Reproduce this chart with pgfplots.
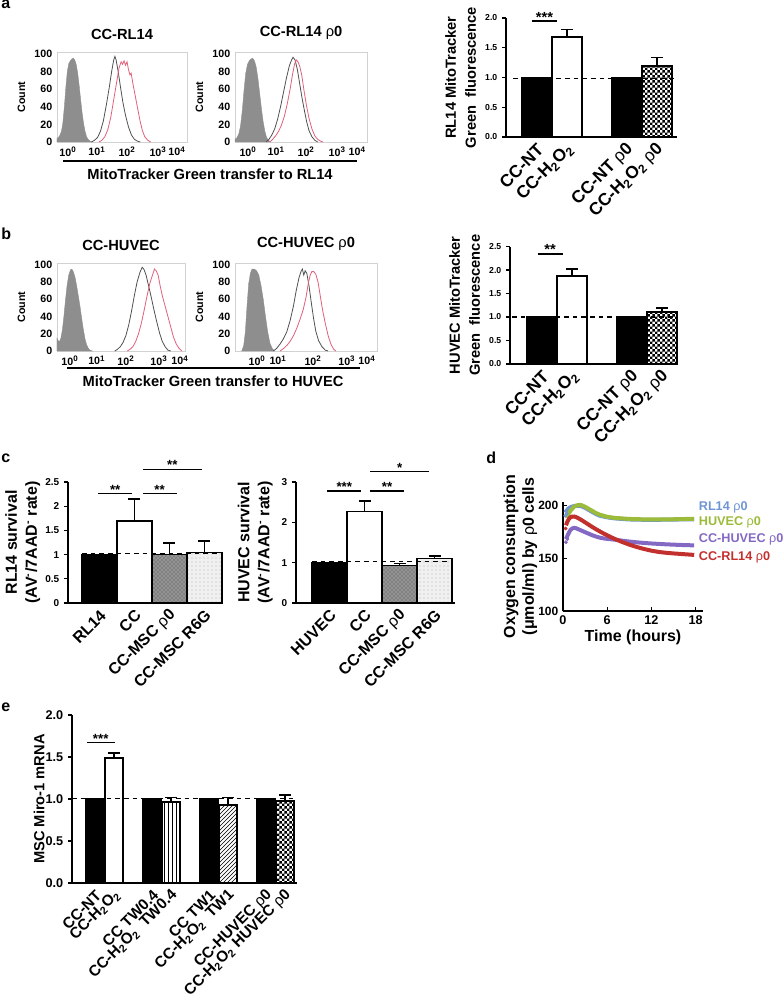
\documentclass[border=0pt]{standalone}
\usepackage{fontspec}
\setmainfont{Liberation Sans}
\usepackage{pgfplots}
\pgfplotsset{compat=1.18}
\usetikzlibrary{patterns}
\pgfdeclarepatternformonly{smallcheck}{\pgfpointorigin}{\pgfqpoint{4pt}{4pt}}{\pgfqpoint{4pt}{4pt}}{%
  \pgfpathrectangle{\pgfpointorigin}{\pgfqpoint{2pt}{2pt}}%
  \pgfpathrectangle{\pgfqpoint{2pt}{2pt}}{\pgfqpoint{2pt}{2pt}}%
  \pgfusepath{fill}}
\definecolor{histred}{HTML}{E0607A}
\definecolor{histgray}{HTML}{8E8E8E}
\definecolor{histdark}{HTML}{505050}
\definecolor{lblue}{HTML}{6E95D6}
\definecolor{lgreen}{HTML}{9CBB3A}
\definecolor{lpurple}{HTML}{8469C4}
\definecolor{lred}{HTML}{C2302E}
\newcommand{\fs}[2]{\fontsize{#1}{#2}\selectfont}
\newcommand{\rh}{{\mdseries ρ}}
\pgfplotsset{
  hist/.style={anchor=south west, scale only axis, ymin=0, ymax=102,
    ytick={0,20,40,60,80,100},
    xticklabels={10\textsuperscript{0},10\textsuperscript{1},10\textsuperscript{2},10\textsuperscript{3},10\textsuperscript{4}},
    axis line style={gray!35, line width=0.5pt}, major tick length=0pt,
    tick label style={font=\bfseries\fs{8}{9}},
    ylabel={Count}, ylabel style={font=\bfseries\fs{8}{9}},
    title style={font=\bfseries\fs{11}{13}},
    /pgf/number format/assume math mode=true, clip=false},
  barax/.style={anchor=south west, scale only axis,
    axis x line*=bottom, axis y line*=left, axis line style={line width=1.1pt,-},
    ymin=0, xtick style={draw=none}, ytick style={line width=0.8pt, black},
    tick align=outside, major tick length=3pt,
    x tick label style={rotate=45, anchor=east, font=\bfseries\fs{13}{14}, inner sep=1pt, yshift=-5pt},
    y tick label style={font=\bfseries\fs{6.5}{8}},
    ylabel style={align=center, font=\bfseries\fs{11}{15}},
    /pgf/number format/assume math mode=true, clip=false},
  onedec/.style={yticklabel style={/pgf/number format/fixed, /pgf/number format/fixed zerofill, /pgf/number format/precision=1}},
  mybar/.style={ybar, bar shift=0pt, bar width=1, draw=black, line width=1.1pt},
  errp/.style={error bars/.cd, y dir=plus, y explicit,
    error bar style={line width=1.1pt, black},
    error mark options={rotate=90, mark size=4.5pt, line width=1.1pt, black}},
  dline/.style={black, line width=0.9pt, dash pattern=on 3.5pt off 3pt},
  brk/.style={black, line width=1.1pt},
}
\begin{document}
\begin{tikzpicture}[x=0.75pt,y=-0.75pt]
\useasboundingbox (0,0) rectangle (784,998);
% panel letters
\node[anchor=base west, inner sep=0, font=\bfseries\fs{12}{14}] at (1,9) {a};
\node[anchor=base west, inner sep=0, font=\bfseries\fs{12}{14}] at (1,240) {b};
\node[anchor=base west, inner sep=0, font=\bfseries\fs{12}{14}] at (1,462) {c};
\node[anchor=base west, inner sep=0, font=\bfseries\fs{12}{14}] at (486,463) {d};
\node[anchor=base west, inner sep=0, font=\bfseries\fs{12}{14}] at (1,711) {e};

% ---------- a histograms
\begin{axis}[hist, at={(57*0.75pt,-142*0.75pt)}, width=97.5pt, height=67.5pt, xmin=-0.37, xmax=4.03,
  xtick={0,0.98,2,3.05,3.69}, title={CC-RL14}]
\addplot[fill=histgray, draw=histgray, line width=0.3pt] coordinates {(-0.37,4) (-0.33,5) (-0.28,7) (-0.22,12) (-0.17,22) (-0.12,40) (-0.07,62) (-0.02,80) (0.03,89) (0.08,92) (0.13,94) (0.18,95) (0.23,93) (0.28,88) (0.33,78) (0.38,64) (0.43,48) (0.48,33) (0.53,21) (0.58,12) (0.63,6) (0.68,3) (0.75,1) (0.82,0)} \closedcycle;
\addplot[draw=histdark, line width=0.6pt] coordinates {(0.8,0) (0.9,2) (1.0,5) (1.1,12) (1.2,24) (1.3,42) (1.4,62) (1.48,80) (1.55,93) (1.59,97) (1.63,93) (1.7,80) (1.78,62) (1.86,45) (1.95,30) (2.05,17) (2.15,8) (2.25,3) (2.35,1) (2.45,0)};
\addplot[draw=histred, line width=0.6pt] coordinates {(1.05,0) (1.15,2) (1.25,6) (1.35,14) (1.45,28) (1.55,48) (1.65,68) (1.73,84) (1.8,91) (1.85,88) (1.9,92) (1.95,87) (2.0,91) (2.05,82) (2.1,76) (2.14,78) (2.2,66) (2.28,52) (2.36,38) (2.44,24) (2.52,13) (2.6,6) (2.7,2) (2.8,0)};
\end{axis}
\begin{axis}[hist, at={(235*0.75pt,-142*0.75pt)}, width=99pt, height=67.5pt, xmin=-0.45, xmax=4.1,
  xtick={0,0.97,2,3.07,3.76}, title={CC-RL14 \rh0}]
\addplot[fill=histgray, draw=histgray, line width=0.3pt] coordinates {(-0.45,3) (-0.38,5) (-0.32,9) (-0.26,18) (-0.2,35) (-0.14,58) (-0.08,78) (-0.02,88) (0.04,92) (0.1,94) (0.16,95) (0.22,92) (0.28,85) (0.34,72) (0.4,55) (0.46,38) (0.52,23) (0.58,12) (0.64,5) (0.7,2) (0.78,0)} \closedcycle;
\addplot[draw=histdark, line width=0.6pt] coordinates {(0.62,0) (0.72,3) (0.82,8) (0.92,15) (1.02,26) (1.12,40) (1.22,56) (1.32,72) (1.42,86) (1.5,93) (1.55,96) (1.62,93) (1.7,82) (1.78,66) (1.86,50) (1.94,36) (2.02,23) (2.1,13) (2.2,6) (2.3,2) (2.4,0)};
\addplot[draw=histred, line width=0.6pt] coordinates {(0.75,0) (0.85,3) (0.95,7) (1.05,12) (1.15,19) (1.25,29) (1.35,43) (1.45,60) (1.53,76) (1.6,88) (1.66,93) (1.72,91) (1.78,86) (1.85,76) (1.93,58) (2.01,42) (2.1,27) (2.2,15) (2.3,7) (2.4,3) (2.5,1) (2.58,0)};
\end{axis}
\draw[line width=0.9pt] (63,161) -- (357,161);
\node[font=\bfseries\fs{11}{13}] at (210,174) {MitoTracker Green transfer to RL14};

% ---------- a bar chart
\begin{axis}[barax, onedec, at={(506*0.75pt,-137*0.75pt)}, width=128.25pt, height=89.25pt, xmin=-0.03, xmax=5.67, ymax=2.0,
  ytick={0,0.5,1,1.5,2},
  xtick={1,2,4,5}, xticklabels={{CC-NT},{CC-H\textsubscript{2}O\textsubscript{2}},{CC-NT \rh0},{CC-H\textsubscript{2}O\textsubscript{2} \rh0}},
  ylabel={RL14 MitoTracker\\Green\ \ fluorescence}]
\addplot[mybar, fill=black] coordinates {(1,1.0)};
\addplot[mybar, fill=white, errp] coordinates {(2,1.68) +- (0,0.13)};
\addplot[mybar, fill=black] coordinates {(4,1.0)};
\addplot[mybar, pattern=smallcheck, errp] coordinates {(5,1.19) +- (0,0.15)};
\addplot[dline] coordinates {(0.2,0.98) (5.67,0.98)};
\addplot[brk] coordinates {(0.84,1.95) (1.67,1.95)};
\node[anchor=base, font=\bfseries\fs{11}{12}] at (axis cs:1.25,1.93) {***};
\end{axis}

% ---------- b histograms
\begin{axis}[hist, at={(57*0.75pt,-351*0.75pt)}, width=96pt, height=66pt, xmin=-0.46, xmax=4.11,
  xtick={0,0.96,2,3.18,3.93}, title={CC-HUVEC}]
\addplot[fill=histgray, draw=histgray, line width=0.3pt] coordinates {(-0.46,15) (-0.42,12) (-0.37,11) (-0.32,15) (-0.27,24) (-0.22,38) (-0.16,58) (-0.1,76) (-0.04,88) (0.02,94) (0.07,95) (0.12,92) (0.18,86) (0.24,76) (0.3,64) (0.36,52) (0.42,38) (0.48,25) (0.54,14) (0.6,7) (0.66,3) (0.72,1) (0.8,0)} \closedcycle;
\addplot[draw=histdark, line width=0.6pt] coordinates {(1.6,0) (1.7,2) (1.8,5) (1.9,10) (2.0,18) (2.1,30) (2.2,46) (2.3,64) (2.4,80) (2.5,91) (2.58,97) (2.64,95) (2.72,88) (2.8,77) (2.9,63) (3.0,48) (3.1,34) (3.2,21) (3.3,11) (3.4,5) (3.5,1) (3.6,0)};
\addplot[draw=histred, line width=0.6pt] coordinates {(2.05,0) (2.15,2) (2.25,5) (2.35,11) (2.45,20) (2.55,32) (2.65,47) (2.75,63) (2.85,78) (2.95,88) (3.02,95) (3.08,93) (3.15,88) (3.22,76) (3.3,64) (3.4,52) (3.5,40) (3.6,28) (3.7,16) (3.8,8) (3.9,3) (4.0,0)};
\end{axis}
\begin{axis}[hist, at={(235*0.75pt,-351*0.75pt)}, width=106.5pt, height=66pt, xmin=-0.79, xmax=4.29,
  xtick={0,0.75,2,3.21,3.93}, title={CC-HUVEC \rh0}]
\addplot[fill=histgray, draw=histgray, line width=0.3pt] coordinates {(-0.55,0) (-0.48,6) (-0.42,22) (-0.36,52) (-0.3,78) (-0.24,90) (-0.18,95) (-0.1,95) (-0.02,93) (0.06,88) (0.14,76) (0.22,60) (0.3,40) (0.38,22) (0.46,9) (0.54,3) (0.62,0)} \closedcycle;
\addplot[draw=histdark, line width=0.6pt] coordinates {(0.58,0) (0.7,3) (0.82,8) (0.94,14) (1.06,22) (1.18,35) (1.3,52) (1.4,70) (1.5,85) (1.58,93) (1.62,95) (1.67,88) (1.72,93) (1.78,90) (1.86,75) (1.94,56) (2.02,38) (2.1,23) (2.2,12) (2.32,5) (2.44,1) (2.54,0)};
\addplot[draw=histred, line width=0.6pt] coordinates {(0.82,0) (0.95,3) (1.08,7) (1.2,12) (1.32,19) (1.44,28) (1.55,38) (1.65,48) (1.75,62) (1.83,78) (1.9,88) (1.96,92) (2.03,92) (2.1,89) (2.18,80) (2.26,64) (2.34,48) (2.44,32) (2.54,18) (2.64,8) (2.74,2) (2.82,0)};
\end{axis}
\draw[line width=0.9pt] (67,368) -- (360,368);
\node[font=\bfseries\fs{11}{13}] at (213,381) {MitoTracker Green transfer to HUVEC};

% ---------- b bar chart
\begin{axis}[barax, onedec, at={(510*0.75pt,-364*0.75pt)}, width=126pt, height=88.1pt, xmin=-0.07, xmax=5.53, ymax=2.5,
  ytick={0,0.5,1,1.5,2,2.5},
  xtick={1,2,4,5}, xticklabels={{CC-NT},{CC-H\textsubscript{2}O\textsubscript{2}},{CC-NT \rh0},{CC-H\textsubscript{2}O\textsubscript{2} \rh0}},
  ylabel={HUVEC MitoTracker\\Green\ \ fluorescence}]
\addplot[mybar, fill=black] coordinates {(1,1.0)};
\addplot[mybar, fill=white, errp] coordinates {(2,1.87) +- (0,0.15)};
\addplot[mybar, fill=black] coordinates {(4,1.0)};
\addplot[mybar, pattern=smallcheck, errp] coordinates {(5,1.11) +- (0,0.08)};
\addplot[dline] coordinates {(0.0,1.0) (5.53,1.0)};
\addplot[brk] coordinates {(0.85,2.34) (1.7,2.34)};
\node[anchor=base, font=\bfseries\fs{11}{12}] at (axis cs:1.27,2.32) {**};
\end{axis}

% ---------- c RL14 survival
\begin{axis}[barax, at={(68*0.75pt,-603*0.75pt)}, width=116.25pt, height=90.75pt, xmin=0.1, xmax=4.53, ymax=2.5,
  ytick={0,0.5,1,1.5,2,2.5}, y tick label style={font=\bfseries\fs{7.5}{9}},
  x tick label style={font=\bfseries\fs{12}{13}},
  xtick={1,2,3,4}, xticklabels={{RL14},{CC},{CC-MSC \rh0},{CC-MSC R6G}},
  ylabel={RL14 survival\\(AV\textsuperscript{-}/7AAD\textsuperscript{-} rate)}, ylabel style={font=\bfseries\fs{12}{15}}, ylabel shift=-3pt]
\addplot[mybar, fill=black] coordinates {(1,1.0)};
\addplot[mybar, fill=white, errp] coordinates {(2,1.69) +- (0,0.46)};
\addplot[mybar, fill=black!42, postaction={pattern=crosshatch dots, pattern color=black!75}, errp] coordinates {(3,1.0) +- (0,0.24)};
\addplot[mybar, fill=black!6, postaction={pattern=dots, pattern color=black!30}, errp] coordinates {(4,1.04) +- (0,0.24)};
\addplot[dline] coordinates {(0.5,1.02) (4.5,1.02)};
\addplot[brk] coordinates {(0.96,2.26) (1.93,2.26)};
\addplot[brk] coordinates {(2.24,2.26) (3.21,2.26)};
\addplot[brk] coordinates {(2.24,2.76) (3.93,2.76)};
\node[anchor=base, font=\bfseries\fs{10}{11}] at (axis cs:1.45,2.25) {**};
\node[anchor=base, font=\bfseries\fs{10}{11}] at (axis cs:2.72,2.25) {**};
\node[anchor=base, font=\bfseries\fs{10}{11}] at (axis cs:3.08,2.75) {**};
\end{axis}

% ---------- c HUVEC survival
\begin{axis}[barax, at={(296*0.75pt,-603*0.75pt)}, width=119.25pt, height=90.75pt, xmin=0.04, xmax=4.58, ymax=3,
  ytick={0,1,2,3}, y tick label style={font=\bfseries\fs{7.5}{9}},
  x tick label style={font=\bfseries\fs{12}{13}},
  xtick={1,2,3,4}, xticklabels={{HUVEC},{CC},{CC-MSC \rh0},{CC-MSC R6G}},
  ylabel={HUVEC survival\\(AV\textsuperscript{-}/7AAD\textsuperscript{-} rate)}, ylabel style={font=\bfseries\fs{12}{15}}]
\addplot[mybar, fill=black] coordinates {(1,1.0)};
\addplot[mybar, fill=white, errp] coordinates {(2,2.27) +- (0,0.26)};
\addplot[mybar, fill=black!42, postaction={pattern=crosshatch dots, pattern color=black!75}, errp] coordinates {(3,0.93) +- (0,0.05)};
\addplot[mybar, fill=black!6, postaction={pattern=dots, pattern color=black!30}, errp] coordinates {(4,1.1) +- (0,0.07)};
\addplot[dline] coordinates {(0.5,1.02) (4.5,1.02)};
\addplot[brk] coordinates {(0.93,2.78) (1.9,2.78)};
\addplot[brk] coordinates {(2.15,2.78) (3.13,2.78)};
\addplot[brk] coordinates {(2.15,3.26) (3.84,3.26)};
\node[anchor=base, font=\bfseries\fs{10}{11}] at (axis cs:1.42,2.76) {***};
\node[anchor=base, font=\bfseries\fs{10}{11}] at (axis cs:2.64,2.76) {**};
\node[anchor=base, font=\bfseries\fs{10}{11}] at (axis cs:3.0,3.24) {*};
\end{axis}

% ---------- d oxygen consumption
\begin{axis}[anchor=south west, scale only axis, at={(563*0.75pt,-611*0.75pt)}, width=105pt, height=81.75pt,
  xmin=0, xmax=19, ymin=100, ymax=203,
  axis x line*=bottom, axis y line*=left, axis line style={line width=0.8pt,-},
  xtick={0,6,12,18}, ytick={100,150,200}, tick align=inside, major tick length=3pt,
  tick style={black, line width=0.8pt},
  x tick label style={font=\bfseries\fs{9.5}{11}}, y tick label style={font=\bfseries\fs{9}{10}},
  xlabel={Time (hours)}, xlabel style={font=\bfseries\fs{12}{14}, yshift=3pt},
  ylabel={Oxygen consumption\\(μmol/ml) by \rh0 cells}, ylabel style={align=center, font=\bfseries\fs{12}{14}}, ylabel shift=-6pt,
  /pgf/number format/assume math mode=true, clip=false]
\addplot[lblue, line width=3pt] coordinates {(0.3,193) (0.5,195) (0.75,197) (1,198) (1.25,198.7) (1.5,199.2) (2,199.5) (2.5,199) (3,197.5) (3.5,195.5) (4,193.5) (4.5,191.5) (5,190) (6,188.5) (7,187.5) (8,187) (9,186.5) (10,186.3) (11,186.2) (12,186.2) (13,186.2) (14,186.3) (15,186.4) (16,186.5) (17,186.6) (17.8,186.7)};
\addplot[lgreen, line width=3pt] coordinates {(0.5,188) (0.7,191) (0.9,193.5) (1.1,195.5) (1.3,197) (1.5,198.5) (1.75,199.5) (2,200) (2.25,200.3) (2.5,200) (3,198.5) (3.5,196.5) (4,194.5) (4.5,192.5) (5,191) (5.5,190) (6,189) (7,188) (8,187.5) (9,187) (10,186.8) (11,186.6) (12,186.5) (13,186.5) (14,186.6) (15,186.7) (16,186.8) (17,187) (17.8,187)};
\addplot[lpurple, line width=3pt] coordinates {(0.4,168) (0.6,171) (0.8,174) (1,176.5) (1.25,178) (1.5,178.5) (1.75,178.3) (2,177.5) (2.5,176) (3,174.5) (3.5,173) (4,171.5) (4.5,170.3) (5,169.3) (5.5,168.6) (6,168.2) (7,167.4) (8,166.5) (9,165.6) (10,164.9) (11,164.3) (12,163.8) (13,163.4) (14,163) (15,162.7) (16,162.4) (17,162.2) (17.8,162)};
\addplot[lred, line width=3pt] coordinates {(0.4,181) (0.6,184.5) (0.8,187) (1,188.5) (1.25,189.2) (1.5,189.3) (1.75,188.8) (2,188) (2.5,186) (3,183.8) (3.5,181.5) (4,179.3) (4.5,177.2) (5,175.2) (5.5,173.3) (6,171.5) (6.5,169.8) (7,168.2) (8,165.3) (9,162.7) (10,160.5) (11,158.6) (12,157) (13,155.8) (14,155) (15,154.4) (16,153.9) (17,153.4) (17.8,153)};
\addplot[only marks, mark=*, mark size=1.2pt, lpurple] coordinates {(0.4,165) (0.6,168)};
\addplot[only marks, mark=*, mark size=1.2pt, lred] coordinates {(0.35,178)};
\addplot[only marks, mark=*, mark size=1.2pt, lblue] coordinates {(0.3,190) (0.5,192)};
\node[anchor=west, inner sep=0, text=lblue, font=\bfseries\fs{9.5}{11}] at (axis cs:18.4,198.3) {RL14 \rh0};
\node[anchor=west, inner sep=0, text=lgreen, font=\bfseries\fs{9.5}{11}] at (axis cs:18.4,184.2) {HUVEC \rh0};
\node[anchor=west, inner sep=0, text=lpurple, font=\bfseries\fs{9.5}{11}] at (axis cs:18.4,167.2) {CC-HUVEC \rh0};
\node[anchor=west, inner sep=0, text=lred, font=\bfseries\fs{9.5}{11}] at (axis cs:18.4,150.2) {CC-RL14 \rh0};
\end{axis}

% ---------- e Miro-1
\begin{axis}[barax, onedec, at={(72*0.75pt,-883*0.75pt)}, width=168.75pt, height=126pt, xmin=-0.21, xmax=11.63, ymax=2.0,
  ytick={0,0.5,1,1.5,2},
  y tick label style={font=\bfseries\fs{9.5}{11}},
  x tick label style={font=\bfseries\fs{11.5}{13}},
  xtick={1,2,4,5,7,8,10,11},
  xticklabels={{CC-NT},{CC-H\textsubscript{2}O\textsubscript{2}},{CC TW0.4},{CC-H\textsubscript{2}O\textsubscript{2}\ \ TW0.4},{CC TW1},{CC-H\textsubscript{2}O\textsubscript{2}\ \ TW1},{CC-HUVEC \rh0},{CC-H\textsubscript{2}O\textsubscript{2} HUVEC \rh0}},
  ylabel={MSC Miro-1 mRNA}, ylabel shift=-6pt]
\addplot[mybar, bar width=0.95, fill=black] coordinates {(1,1.0)};
\addplot[mybar, bar width=0.95, fill=white, errp] coordinates {(2,1.49) +- (0,0.06)};
\addplot[mybar, bar width=0.95, fill=black] coordinates {(4,1.0)};
\addplot[mybar, bar width=0.95, pattern=vertical lines, errp] coordinates {(5,0.965) +- (0,0.05)};
\addplot[mybar, bar width=0.95, fill=black] coordinates {(7,1.0)};
\addplot[mybar, bar width=0.95, pattern=north east lines, errp] coordinates {(8,0.93) +- (0,0.09)};
\addplot[mybar, bar width=0.95, fill=black] coordinates {(10,1.0)};
\addplot[mybar, bar width=0.95, pattern=smallcheck, errp] coordinates {(11,0.975) +- (0,0.07)};
\addplot[dline] coordinates {(-0.21,1.01) (11.63,1.01)};
\addplot[brk] coordinates {(0.58,1.67) (2.05,1.67)};
\node[anchor=base, font=\bfseries\fs{10}{11}] at (axis cs:1.3,1.66) {***};
\end{axis}
\end{tikzpicture}
\end{document}
